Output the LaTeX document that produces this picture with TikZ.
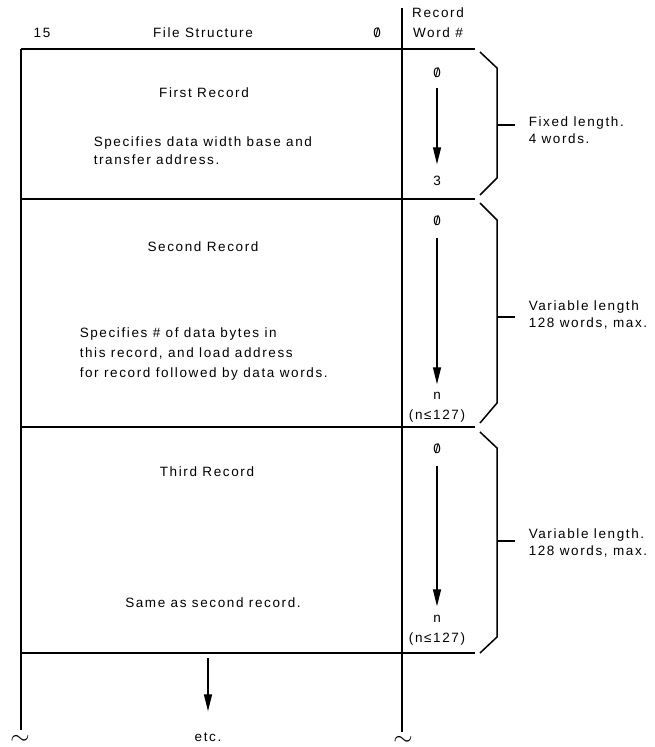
\documentclass[tikz,border=0pt]{standalone}
\usepackage{fontspec}
\setmainfont[LetterSpace=12]{Liberation Sans}
\usetikzlibrary{arrows.meta}
\newcommand{\zeroslash}{\ooalign{0\cr\hidewidth/\hidewidth\cr}}
\begin{document}
\begin{tikzpicture}[x=1pt, y=-1pt, line width=1.5pt,
	>={Stealth[length=17pt, width=8pt, inset=0pt]},
	font=\fontsize{13.5}{18}\selectfont,
	col/.style={inner sep=0pt, text height=10pt, text depth=0pt},
	wordarrow/.style={->, line width=1.3pt},
	lenlabel/.style={anchor=west, inner sep=0pt, align=left, font=\fontsize{13.5}{17}\selectfont}]
	\useasboundingbox (0,0) rectangle (654,747);
	
	% Khung
	\draw (21,49) -- (21,730);
	\draw (402,8) -- (402,732);
	\foreach \y in {49,199,427,653}
		\draw (21,\y) -- (475,\y);
	
	% Tiêu đề
	\node (msb) at (42,33) {15};
	\node (title) at (203,33) {File Structure};
	\node (lsb) at (377,33) {\zeroslash};
	\node[align=center, font=\fontsize{13.5}{20}\selectfont] (wordno) at (438,23) {Record\\Word \#};
	
	% Bản ghi
	\node (rec1) at (204,93) {First Record};
	\node[anchor=west, inner sep=0pt, align=left] (txt1) at (93,151) {Specifies data width base and\\transfer address.};
	\node (rec2) at (203,247) {Second Record};
	\node[anchor=west, inner sep=0pt, align=left, font=\fontsize{13.5}{20}\selectfont] (txt2) at (79,354)
		{Specifies \# of data bytes in\\this record, and load address\\for record followed by data words.};
	\node (rec3) at (207,472) {Third Record};
	\node (txt3) at (213,603) {Same as second record.};
	
	% Số thứ tự từ
	\node[col, anchor=base] (z1) at (437,77) {\zeroslash};
	\node[col, anchor=base] (e1) at (437,185) {3};
	\draw[wordarrow, shorten <=10pt, shorten >=10pt] (z1) -- (e1);
	
	\node[col, anchor=base] (z2) at (437,225) {\zeroslash};
	\node[col, anchor=base] (n2) at (437,399) {n};
	\node[col, anchor=base] (m2) at (437,419) {(n≤127)};
	\draw[wordarrow, shorten <=12pt, shorten >=4pt] (z2) -- (n2);
	
	\node[col, anchor=base] (z3) at (437,453) {\zeroslash};
	\node[col, anchor=base] (n3) at (437,622) {n};
	\node[col, anchor=base] (m3) at (437,642) {(n≤127)};
	\draw[wordarrow, shorten <=12pt, shorten >=5pt] (z3) -- (n3);
	
	% Ngoặc
	\foreach \t/\a/\b/\e/\m in {52/68/178/195/125, 203/220/403/423/317, 432/448/637/653/541}{
		\draw[line join=miter] (480,\t) -- (497,\a) -- (497,\b) -- (480,\e);
		\draw (497,\m) -- (515,\m);
	}
	\node[lenlabel] (len1) at (528,130) {Fixed length.\\4 words.};
	\node[lenlabel] (len2) at (528,315) {Variable length\\128 words, max.};
	\node[lenlabel] (len3) at (528,543) {Variable length.\\128 words, max.};
	
	% Tiếp tục
	\coordinate (more) at (208,658);
	\node[col, anchor=base] (etc) at (208,741) {etc.};
	\draw[wordarrow, shorten >=19pt] (more) -- (etc);
	\node[inner sep=0pt, font=\fontsize{24}{24}\selectfont] (cutl) at (20,740) {$\sim$};
	\node[inner sep=0pt, font=\fontsize{24}{24}\selectfont] (cutr) at (403,741) {$\sim$};
\end{tikzpicture}
\end{document}
